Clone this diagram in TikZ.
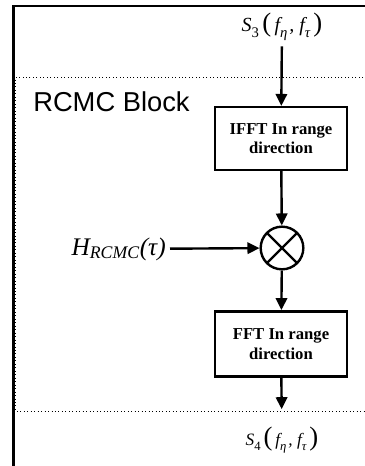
\documentclass[tikz,border=0pt]{standalone}
\usepackage{fontspec}
\setmainfont{Liberation Serif}
\newfontfamily\blockfont{Liberation Sans}
\usetikzlibrary{arrows.meta}
\newcommand{\bigpar}[1]{{\upshape\fontsize{20}{20}\selectfont#1}}
\newcommand{\lowidx}[2]{\raisebox{-0.3em}{\fontsize{#1}{#1}\selectfont#2}}

\begin{document}
\begin{tikzpicture}[x=0.75pt,y=-0.75pt,every node/.style={inner sep=0pt},
    proc/.style={draw,line width=1.8pt,minimum width=99pt,minimum height=47pt,align=center,font=\bfseries\fontsize{12.5}{14.5}\selectfont},
    mult/.style={circle,draw,line width=1.8pt,minimum size=32pt,path picture={\draw[line width=1.8pt] (path picture bounding box.north west)--(path picture bounding box.south east) (path picture bounding box.north east)--(path picture bounding box.south west);}},
    flow/.style={-{Triangle[length=9pt,width=8.5pt]},line width=1.8pt}]
    \useasboundingbox (0,0) rectangle (364,466);
    \draw[line width=1.8pt] (13.5,470) -- (13.5,6) -- (370,6);
    \draw[dotted,line width=0.6pt] (370,77) -- (15.5,77) -- (15.5,411) -- (370,411);
    \node[anchor=west,font=\blockfont\fontsize{20.5}{24}\selectfont](blk) at (33,102){RCMC Block};
    \node[font=\itshape\fontsize{15}{17}\selectfont](s3) at (282,27){S\lowidx{11}{\upshape 3}\,\bigpar{(}\,f\lowidx{11}{η}\kern1.5pt, f\lowidx{11}{τ}\,\bigpar{)}};
    \node[proc](ifft) at (281,138.5){IFFT In range\\direction};
    \node[mult](x) at (282,248){};
    \node[proc,minimum height=49pt](fft) at (281,344){FFT In range\\direction};
    \node[font=\itshape\fontsize{13}{15}\selectfont](s4) at (282,440){S\lowidx{9.5}{\upshape 4}\,\bigpar{(}\,f\lowidx{9.5}{η}\kern1.5pt, f\lowidx{9.5}{τ}\,\bigpar{)}};
    \node[anchor=east,font=\itshape\fontsize{19}{22}\selectfont](h) at (166,249){H\textsubscript{RCMC}(τ)};
    \draw[flow,shorten <=4pt] (s3) -- (ifft);
    \draw[flow] (ifft) -- (x);
    \draw[flow,shorten <=3pt] (h) -- (x);
    \draw[flow] (x) -- (fft);
    \draw[flow,shorten >=13pt] (fft) -- (s4);
\end{tikzpicture}
\end{document}
